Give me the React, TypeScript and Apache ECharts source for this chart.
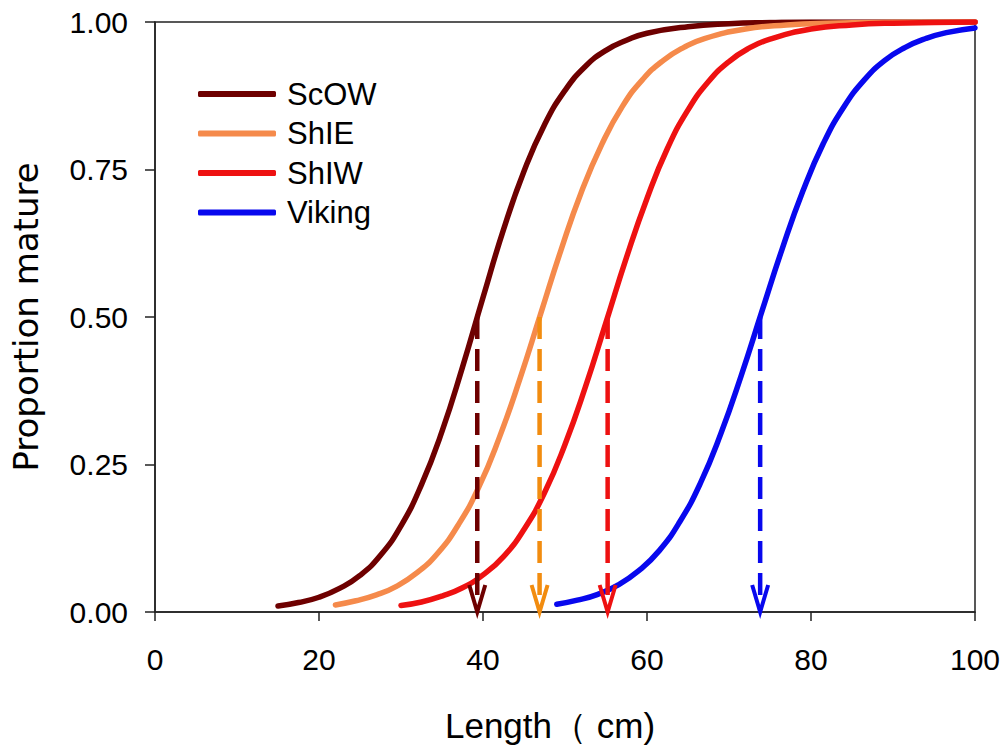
import React, { useEffect, useRef } from "react";
import * as echarts from "echarts";

const seriesNames = ["ScOW", "ShIE", "ShIW", "Viking"];
const lineColors = ["#6E0000", "#F58A4B", "#EE1111", "#0808EE"];
const arrowColors = ["#6E0000", "#F28C0F", "#EE1111", "#0808EE"];
// length at 50% maturity (arrows)
const l50 = [39.3, 46.9, 55.2, 73.8];

const scowX = [15, 17.5, 20, 22.5, 25, 27.5, 30, 32.5, 35, 37.5, 40, 42.5, 45, 47.5, 50, 52.5, 55, 57.5, 60, 65, 70, 75, 80, 90, 100];
const scowY = [0.010, 0.016, 0.025, 0.040, 0.062, 0.096, 0.146, 0.216, 0.306, 0.415, 0.533, 0.648, 0.747, 0.826, 0.884, 0.925, 0.952, 0.969, 0.981, 0.992, 0.997, 0.999, 1.0, 1.0, 1.0];

const shieX = [22, 24.5, 27, 29.5, 32, 34.5, 37, 39.5, 42, 44.5, 47, 49.5, 52, 54.5, 57, 59.5, 62, 64.5, 67, 72, 77, 82, 90, 100];
const shieY = [0.012, 0.019, 0.029, 0.044, 0.067, 0.100, 0.148, 0.212, 0.296, 0.395, 0.504, 0.613, 0.712, 0.793, 0.857, 0.903, 0.935, 0.957, 0.972, 0.988, 0.995, 0.998, 0.9995, 1.0];

const shiwX = [30, 32.5, 35, 37.5, 40, 42.5, 45, 47.5, 50, 52.5, 55, 57.5, 60, 62.5, 65, 67.5, 70, 72.5, 75, 80, 85, 90, 100];
const shiwY = [0.011, 0.017, 0.027, 0.041, 0.063, 0.094, 0.140, 0.202, 0.284, 0.382, 0.491, 0.601, 0.701, 0.786, 0.851, 0.899, 0.933, 0.956, 0.971, 0.988, 0.995, 0.998, 1.0];

const vikingX = [49, 51.5, 54, 56.5, 59, 61.5, 64, 66.5, 69, 71.5, 74, 76.5, 79, 81.5, 84, 86.5, 89, 91.5, 94, 96.5, 100];
const vikingY = [0.013, 0.020, 0.030, 0.046, 0.070, 0.104, 0.153, 0.218, 0.302, 0.401, 0.509, 0.616, 0.713, 0.794, 0.856, 0.902, 0.935, 0.957, 0.972, 0.982, 0.990];

const pairs = (xs: number[], ys: number[]) => xs.map((x, i) => [x, ys[i]]);

export default function App() {
  const ref = useRef<HTMLDivElement>(null);
  useEffect(() => {
    const chart = echarts.init(ref.current!, null, { renderer: "svg" });
    const curves = [pairs(scowX, scowY), pairs(shieX, shieY), pairs(shiwX, shiwY), pairs(vikingX, vikingY)];
    const lineSeries = curves.map((d, i) => ({
      name: seriesNames[i],
      type: "line",
      data: d,
      smooth: true,
      symbol: "none",
      showSymbol: false,
      color: lineColors[i],
      itemStyle: { color: lineColors[i] },
      lineStyle: { width: 5.5, color: lineColors[i], cap: "round" },
      z: 2 + i,
    }));
    const option: any = {
      animation: false,
      backgroundColor: "#ffffff",
      textStyle: { fontFamily: "'Liberation Sans', Arial, sans-serif", color: "#000" },
      grid: {
        left: 155, right: 30, top: 22, bottom: 142,
        show: true, borderColor: "#222", borderWidth: 1.5, backgroundColor: "transparent",
      },
      legend: {
        data: seriesNames.map((n) => ({ name: n, icon: "roundRect" })),
        orient: "vertical",
        left: 193,
        top: 73,
        itemWidth: 78,
        itemHeight: 6,
        itemGap: 7.5,
        itemStyle: { borderWidth: 0 },
        textStyle: { fontSize: 31, lineHeight: 32, color: "#000", padding: [0, 0, 0, 6], fontFamily: "'Liberation Sans', Arial, sans-serif" },
      },
      xAxis: {
        type: "value", min: 0, max: 100, interval: 20,
        name: "Length（ cm)",
        nameLocation: "middle",
        nameGap: 96,
        nameTextStyle: { fontSize: 35, color: "#000", padding: [0, 30, 0, 0] },
        axisLine: { show: true, lineStyle: { color: "#222", width: 1.5 } },
        axisTick: { show: true, inside: false, length: 9, lineStyle: { color: "#222", width: 1.5 } },
        axisLabel: { fontSize: 30, color: "#000", margin: 32 },
        splitLine: { show: false },
      },
      yAxis: {
        type: "value", min: 0, max: 1, interval: 0.25,
        name: "Proportion mature",
        nameLocation: "middle",
        nameGap: 112,
        nameTextStyle: { fontSize: 34, color: "#000", fontFamily: "'DejaVu Sans', sans-serif" },
        axisLine: { show: true, lineStyle: { color: "#222", width: 1.5 } },
        axisTick: { show: true, inside: false, length: 10, lineStyle: { color: "#222", width: 1.5 } },
        axisLabel: { fontSize: 30, color: "#000", margin: 27, formatter: (v: number) => v.toFixed(2) },
        splitLine: { show: false },
      },
      series: [
        ...lineSeries,
        {
          type: "custom",
          name: "L50",
          coordinateSystem: "cartesian2d",
          data: l50.map((v, i) => [v, 0.5, i]),
          z: 10,
          clip: false,
          renderItem: (params: any, api: any) => {
            const idx = api.value(2);
            const top = api.coord([api.value(0), api.value(1)]);
            const bot = api.coord([api.value(0), 0]);
            const c = arrowColors[idx];
            return {
              type: "group",
              children: [
                {
                  type: "line",
                  shape: { x1: top[0], y1: top[1], x2: bot[0], y2: bot[1] - 2 },
                  style: { stroke: c, lineWidth: 4.5, lineDash: [22, 10], fill: null },
                },
                {
                  type: "polyline",
                  shape: { points: [[bot[0] - 8, bot[1] - 27], [bot[0], bot[1]], [bot[0] + 8, bot[1] - 27]] },
                  style: { stroke: c, lineWidth: 4, fill: null },
                },
              ],
            };
          },
        },
      ],
    };
    chart.setOption(option);
    return () => chart.dispose();
  }, []);
  return <div ref={ref} style={{ position: "fixed", left: 0, top: 0, width: 1005, height: 754 }} />;
}
